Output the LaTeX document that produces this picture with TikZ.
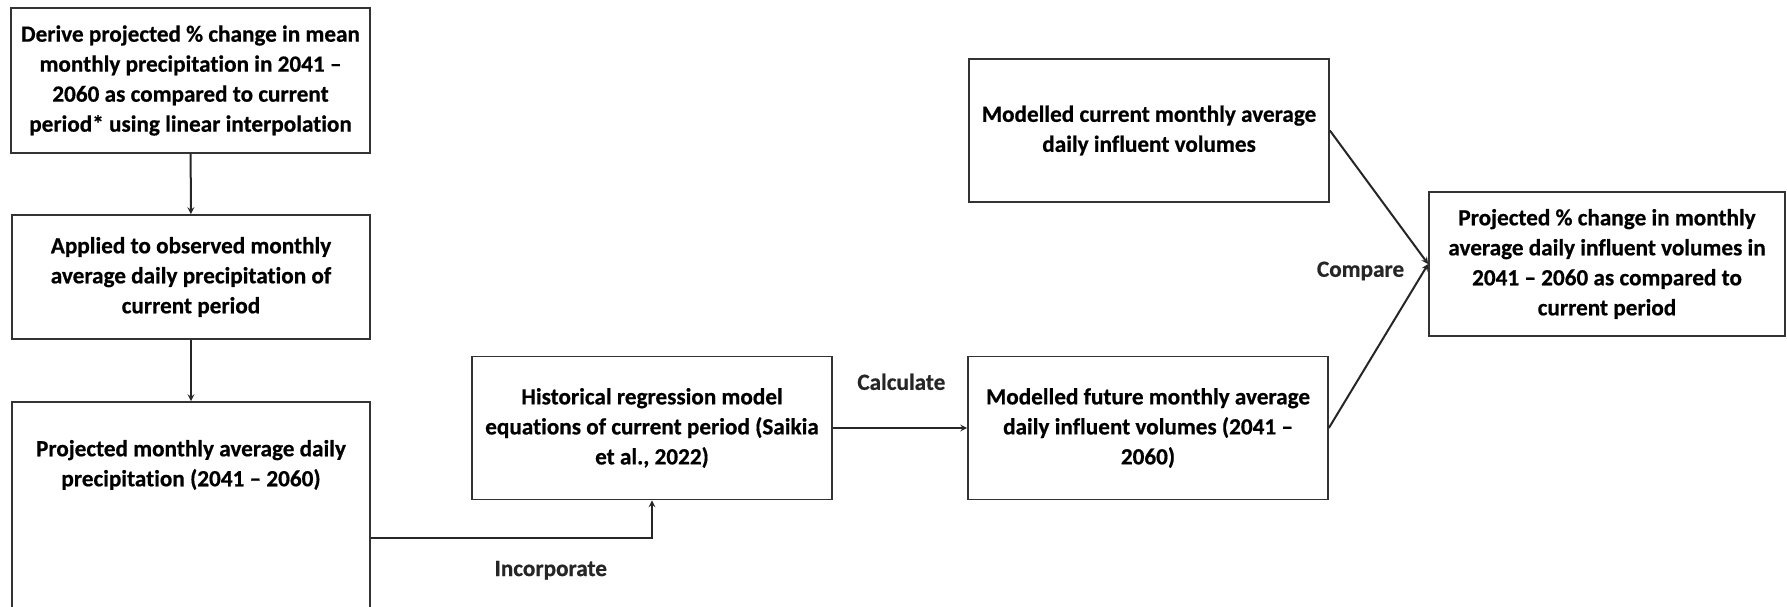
\documentclass[tikz,border=0pt]{standalone}
\usepackage{fontspec}
\setmainfont{Carlito}[Ligatures={TeX,NoCommon}, BoldFeatures={FakeBold=0.6}]
\usetikzlibrary{shapes,arrows,positioning,calc}

\begin{document}
\begin{tikzpicture}[x=1pt, y=-1pt,
    box/.style={draw=black!80, rectangle, line width=1.7pt, align=center, inner sep=0pt, font=\fontsize{23.2}{30}\selectfont\bfseries},
    lbl/.style={inner sep=0pt, font=\fontsize{23.2}{30}\selectfont\bfseries},
    arrow/.style={->, line width=2pt, black!85, >=stealth}
]
    \useasboundingbox (0,0) rectangle (1787,607);

    \node[box, minimum width=359pt, minimum height=145pt] (derive) at (190.5,80.5) {Derive projected \% change in mean\\monthly precipitation in 2041 --\\2060 as compared to current\\period* using linear interpolation};
    \node[box, minimum width=358pt, minimum height=124pt] (applied) at (191,277) {Applied to observed monthly\\average daily precipitation of\\current period};
    \node[box, minimum width=358pt, minimum height=272pt] (projprecip) at (191,538) {\parbox[c][272pt][t]{340pt}{\centering\vspace*{38pt}Projected monthly average daily\\precipitation (2041 -- 2060)}};
    \node[box, minimum width=360pt, minimum height=143pt] (histreg) at (652,428) {Historical regression model\\equations of current period (Saikia\\et al., 2022)};
    \node[box, minimum width=360pt, minimum height=143pt] (curvol) at (1149,130.5) {Modelled current monthly average\\daily influent volumes};
    \node[box, minimum width=360pt, minimum height=143pt] (futvol) at (1148,428) {Modelled future monthly average\\daily influent volumes (2041 --\\2060)};
    \node[box, minimum width=356pt, minimum height=144pt] (final) at (1607,264) {Projected \% change in monthly\\average daily influent volumes in\\2041 -- 2060 as compared to\\current period};

    \draw[arrow] (derive) -- (applied);
    \draw[arrow] (applied) -- (projprecip);
    \draw[arrow] (projprecip.east) -| node[pos=0.32, below=22pt, lbl] {Incorporate} (histreg.south);
    \draw[arrow] (histreg) -- node[pos=0.51, above=37pt, lbl] {Calculate} (futvol);
    \draw[arrow] (curvol.east) -- (final.west);
    \draw[arrow] (futvol.east) -- node[pos=1, left=23pt, yshift=-7pt, lbl] {Compare} (final.west);
\end{tikzpicture}
\end{document}
